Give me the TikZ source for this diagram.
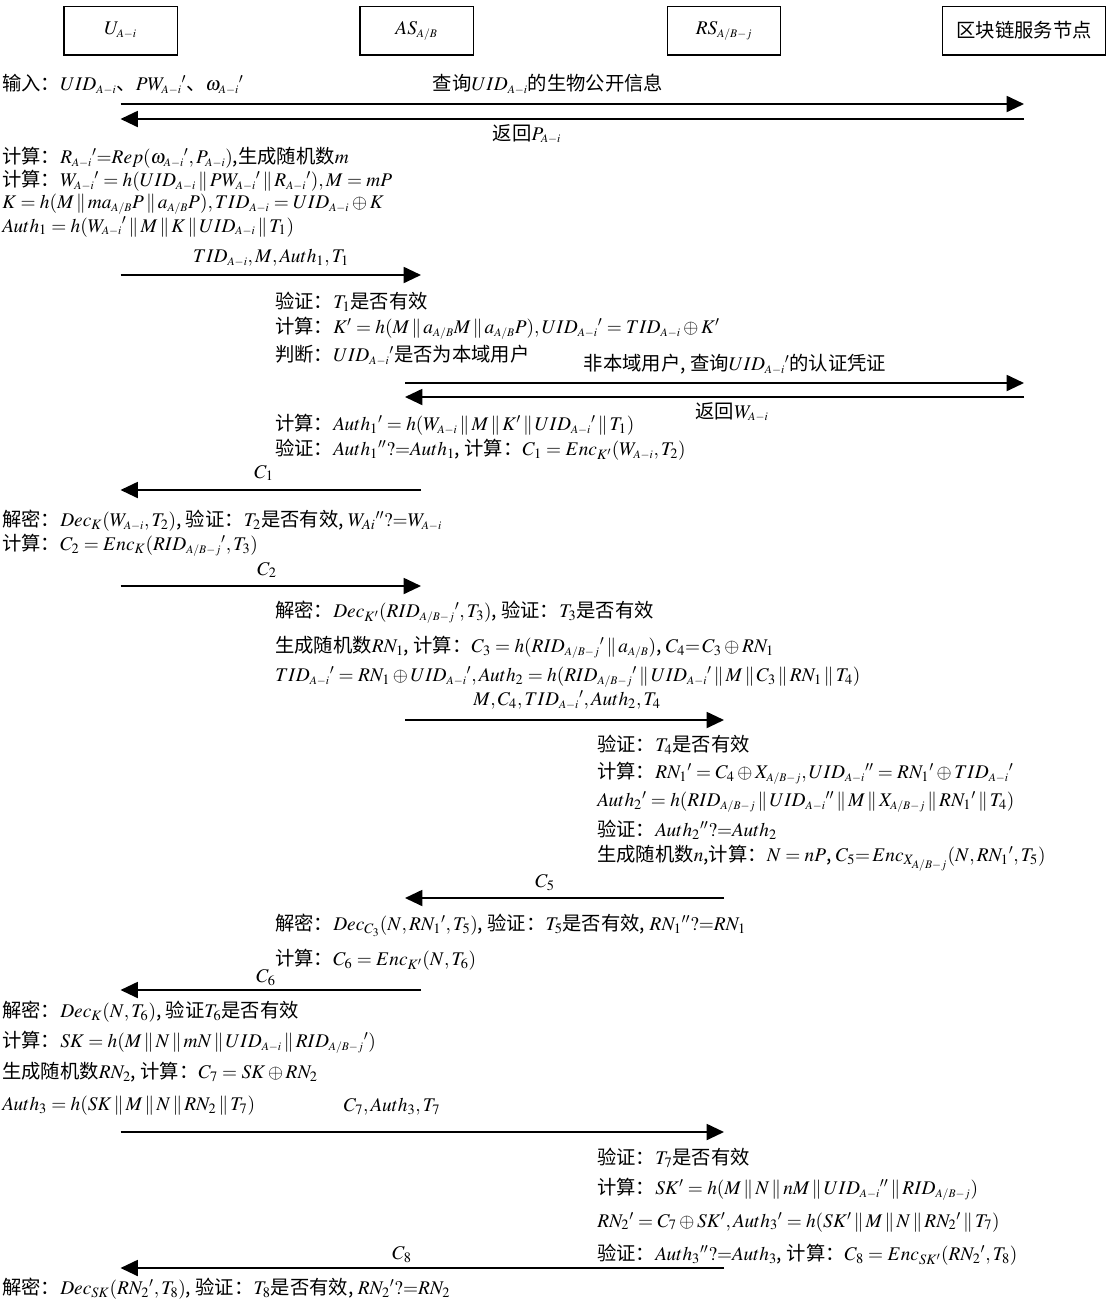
\documentclass[tikz,border=0pt]{standalone}
\usepackage{amsmath}
\usepackage{mathptmx}
\usepackage[no-math]{fontspec}
\setmainfont{Noto Sans CJK SC}
\usepackage{xcolor}
\usepackage{tikz}
\usetikzlibrary{arrows.meta}
\newcommand{\Ai}{\scriptscriptstyle A-i}
\newcommand{\AB}{\scriptscriptstyle A/B}
\newcommand{\ABj}{\scriptscriptstyle A/B-j}
\newcommand{\dbar}{\,\|\,}

\begin{document}
\begin{tikzpicture}[x=0.75pt,y=-0.75pt,
  every node/.style={font=\fontsize{14.5}{16}\selectfont},
  box/.style={draw,line width=1pt,minimum width=85pt,minimum height=36.5pt,inner sep=0pt},
  txt/.style={anchor=west,inner sep=0pt},
  lbl/.style={inner sep=0pt},
  msg/.style={line width=1.4pt,-{Triangle[length=13pt,width=12pt]}}]
\useasboundingbox (0,0) rectangle (1107,1304);
% participants
\node[box] (U) at (120.5,30.5) {$U_{\Ai}$};
\node[box] (AS) at (416.5,30.5) {$AS_{\AB}$};
\node[box] (RS) at (724,30.5) {$RS_{\ABj}$};
\node[box,minimum width=122pt] (BC) at (1024,30.5) {区块链服务节点};
\coordinate (asL) at (405,55);
\coordinate (asR) at (421,55);

% registration query
\node[txt] (in) at (2,84) {输入：$UID_{\Ai}$、$PW_{\Ai}{}'$、$\omega_{\Ai}{}'$};
\node[lbl] (qry) at (548,84) {查询$UID_{\Ai}$的生物公开信息};
\draw[msg] (U |- 0,104) -- (BC |- 0,104);
\draw[msg] (BC |- 0,119) -- (U |- 0,119);
\node[lbl] (retP) at (527,134) {返回$P_{\Ai}$};
\node[txt] (calcR) at (2,158) {计算：$R_{\Ai}{}'{=}Rep(\omega_{\Ai}{}',P_{\Ai})$,生成随机数$m$};
\node[txt] (calcW) at (2,181) {计算：$W_{\Ai}{}'=h(UID_{\Ai}\dbar PW_{\Ai}{}'\dbar R_{\Ai}{}'),M=mP$};
\node[txt] (calcK) at (2,204) {$K=h(M\dbar ma_{\AB}P\dbar a_{\AB}P),TID_{\Ai}=UID_{\Ai}\oplus K$};
\node[txt] (auth1) at (2,227) {$Auth_1=h(W_{\Ai}{}'\dbar M\dbar K\dbar UID_{\Ai}\dbar T_1)$};

% U -> AS
\node[lbl] (m1) at (271,258) {$TID_{\Ai},M,Auth_1,T_1$};
\draw[msg] (U |- 0,275) -- (asR |- 0,275);
\node[txt] (chkT1) at (275,302) {验证：$T_1$是否有效};
\node[txt] (calcK2) at (275,328) {计算：$K'=h(M\dbar a_{\AB}M\dbar a_{\AB}P),UID_{\Ai}{}'=TID_{\Ai}\oplus K'$};
\node[txt] (judge) at (275,355) {判断：$UID_{\Ai}{}'$是否为本域用户};
\node[lbl] (qry2) at (735,364) {非本域用户, 查询$UID_{\Ai}{}'$的认证凭证};
\draw[msg] (asL |- 0,383) -- (BC |- 0,383);
\draw[msg] (BC |- 0,397) -- (asL |- 0,397);
\node[lbl] (retW) at (732,412) {返回$W_{\Ai}$};
\node[txt] (calcA1) at (275,425) {计算：$Auth_1{}'=h(W_{\Ai}\dbar M\dbar K'\dbar UID_{\Ai}{}'\dbar T_1)$};
\node[txt] (chkA1) at (275,450) {验证：$Auth_1{}''?{=}Auth_1$, 计算：$C_1=Enc_{K'}(W_{\Ai},T_2)$};

% AS -> U
\node[lbl] (m2) at (264,473) {$C_1$};
\draw[msg] (asR |- 0,490) -- (U |- 0,490);
\node[txt] (dec1) at (2,521) {解密：$Dec_K(W_{\Ai},T_2)$, 验证：$T_2$是否有效, $W_{Ai}{}''?{=}W_{\Ai}$};
\node[txt] (calcC2) at (2,545) {计算：$C_2=Enc_K(RID_{\ABj}{}',T_3)$};
\node[lbl] (m3) at (267,570) {$C_2$};
\draw[msg] (U |- 0,586) -- (asR |- 0,586);
\node[txt] (dec2) at (275,612) {解密：$Dec_{K'}(RID_{\ABj}{}',T_3)$, 验证：$T_3$是否有效};
\node[txt] (genRN1) at (275,647) {生成随机数$RN_1$, 计算：$C_3=h(RID_{\ABj}{}'\dbar a_{\AB})$, $C_4{=}\,C_3\oplus RN_1$};
\node[txt] (calcTID) at (275,677) {$TID_{\Ai}{}'=RN_1\oplus UID_{\Ai}{}',Auth_2=h(RID_{\ABj}{}'\dbar UID_{\Ai}{}'\dbar M\dbar C_3\dbar RN_1\dbar T_4)$};

% AS -> RS
\node[lbl] (m4) at (567,700) {$M,C_4,TID_{\Ai}{}',Auth_2,T_4$};
\draw[msg] (asL |- 0,720) -- (RS |- 0,720);
\node[txt] (chkT4) at (597,745) {验证：$T_4$是否有效};
\node[txt] (calcRN1) at (597,773) {计算：$RN_1{}'=C_4\oplus X_{\ABj},UID_{\Ai}{}''=RN_1{}'\oplus TID_{\Ai}{}'$};
\node[txt] (calcA2) at (597,802) {$Auth_2{}'=h(RID_{\ABj}\dbar UID_{\Ai}{}''\dbar M\dbar X_{\ABj}\dbar RN_1{}'\dbar T_4)$};
\node[txt] (chkA2) at (597,830) {验证：$Auth_2{}''?{=}Auth_2$};
\node[txt] (genN) at (597,858) {生成随机数$n$,计算：$N=nP$, $C_5{=}\,Enc_{X_{\ABj}}(N,RN_1{}',T_5)$};

% RS -> AS
\node[lbl] (m5) at (545,883) {$C_5$};
\draw[msg] (RS |- 0,898) -- (asL |- 0,898);
\node[txt] (dec3) at (275,925) {解密：$Dec_{C_3}(N,RN_1{}',T_5)$, 验证：$T_5$是否有效, $RN_1{}''?{=}RN_1$};
\node[txt] (calcC6) at (275,960) {计算：$C_6=Enc_{K'}(N,T_6)$};

% AS -> U
\node[lbl] (m6) at (266,978) {$C_6$};
\draw[msg] (asR |- 0,990) -- (U |- 0,990);
\node[txt] (dec4) at (2,1012) {解密：$Dec_K(N,T_6)$, 验证$T_6$是否有效};
\node[txt] (calcSK) at (2,1042) {计算：$SK=h(M\dbar N\dbar mN\dbar UID_{\Ai}\dbar RID_{\ABj}{}')$};
\node[txt] (genRN2) at (2,1072) {生成随机数$RN_2$, 计算：$C_7=SK\oplus RN_2$};
\node[txt] (auth3) at (2,1106) {$Auth_3=h(SK\dbar M\dbar N\dbar RN_2\dbar T_7)$};

% U -> RS
\node[lbl] (m7) at (392,1107) {$C_7,Auth_3,T_7$};
\draw[msg] (U |- 0,1132) -- (RS |- 0,1132);
\node[txt] (chkT7) at (597,1158) {验证：$T_7$是否有效};
\node[txt] (calcSK2) at (597,1189) {计算：$SK'=h(M\dbar N\dbar nM\dbar UID_{\Ai}{}''\dbar RID_{\ABj})$};
\node[txt] (calcRN2) at (597,1222) {$RN_2{}'=C_7\oplus SK',Auth_3{}'=h(SK'\dbar M\dbar N\dbar RN_2{}'\dbar T_7)$};
\node[txt] (chkA3) at (597,1255) {验证：$Auth_3{}''?{=}Auth_3$, 计算：$C_8=Enc_{SK'}(RN_2{}',T_8)$};

% RS -> U
\node[lbl] (m8) at (402,1255) {$C_8$};
\draw[msg] (RS |- 0,1268) -- (U |- 0,1268);
\node[txt] (dec5) at (2,1289) {解密：$Dec_{SK}(RN_2{}',T_8)$, 验证：$T_8$是否有效, $RN_2{}'?{=}RN_2$};
\end{tikzpicture}
\end{document}
